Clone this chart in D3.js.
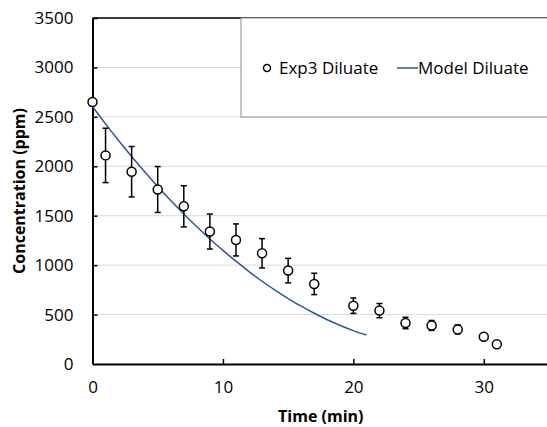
<!DOCTYPE html>
<html lang="en">
<head>
  <meta charset="utf-8">
  <title>Diluate concentration</title>
  <script src="https://cdn.jsdelivr.net/npm/d3@7"></script>
  <style>
    body { margin: 0; background: #fff; }
    text { font-family: "Open Sans", "Noto Sans", sans-serif; fill: #000; }
  </style>
</head>
<body>
  <div id="chart"></div>
  <script>
    // experimental points (time in min, concentration in ppm, error bar half-length)
    var expTime = [0, 1, 3, 5, 7, 9, 11, 13, 15, 17, 20, 22, 24, 26, 28, 30, 31];
    var expConc = [2650, 2110, 1945, 1765, 1595, 1340, 1255, 1120, 945, 810, 590, 540, 415, 390, 350, 275, 200];
    var expErr = [0, 275, 255, 232, 208, 177, 162, 148, 124, 108, 78, 72, 58, 50, 45, 0, 0];

    // model curve
    var modelTime = [0, 1, 2, 3, 4, 5, 6, 7, 8, 9, 10, 11, 12, 13, 14, 15, 16, 17, 18, 19, 20, 21];
    var modelConc = [2604, 2429, 2261, 2099, 1944, 1795, 1653, 1517, 1388, 1265, 1150, 1040, 935, 837, 747, 662, 585, 513, 448, 390, 338, 293];

    var xTicks = [0, 10, 20, 30];
    var yTicks = [0, 500, 1000, 1500, 2000, 2500, 3000, 3500];

    var W = 547, H = 427;
    var margin = { top: 18, right: -2, bottom: 63, left: 92.5 };

    var svg = d3.select("#chart").append("svg")
      .attr("width", W)
      .attr("height", H);

    var x = d3.scaleLinear().domain([0, 35]).range([margin.left, W - margin.right]);
    var y = d3.scaleLinear().domain([0, 3500]).range([H - margin.bottom, margin.top]);

    // gridlines
    svg.append("g").selectAll("line")
      .data(yTicks.slice(1))
      .enter().append("line")
      .attr("x1", x(0)).attr("x2", W)
      .attr("y1", function (d) { return y(d); })
      .attr("y2", function (d) { return y(d); })
      .attr("stroke", "#d9d9d9")
      .attr("stroke-width", 1);

    // top border of plot area
    svg.append("line")
      .attr("x1", x(0)).attr("x2", W)
      .attr("y1", y(3500)).attr("y2", y(3500))
      .attr("stroke", "#000").attr("stroke-width", 1.5);

    // axes
    var fmt = d3.format("d");
    var xAxis = d3.axisBottom(x).tickValues(xTicks).tickFormat(fmt).tickSizeInner(-5).tickSizeOuter(0).tickPadding(17);
    var yAxis = d3.axisLeft(y).tickValues(yTicks).tickFormat(fmt).tickSizeInner(-5).tickSizeOuter(0).tickPadding(19);

    var gx = svg.append("g")
      .attr("transform", "translate(0," + y(0) + ")")
      .call(xAxis);
    var gy = svg.append("g")
      .attr("transform", "translate(" + x(0) + ",0)")
      .call(yAxis);

    [gx, gy].forEach(function (g) {
      g.select(".domain").attr("stroke", "#000").attr("stroke-width", 2);
      g.selectAll(".tick line").attr("stroke", "#000").attr("stroke-width", 1.5);
      g.selectAll(".tick text").style("font-size", "17px").attr("fill", "#000");
    });
    gx.selectAll(".tick line").filter(function (d) { return d === 0; }).remove();
    gy.selectAll(".tick line").filter(function (d) { return d === 0; }).remove();

    // axis titles
    svg.append("text")
      .attr("x", (x(0) + x(35)) / 2)
      .attr("y", 422)
      .attr("text-anchor", "middle")
      .style("font-size", "16px")
      .style("font-weight", "bold")
      .text("Time (min)");

    svg.append("text")
      .attr("transform", "translate(25," + 191 + ") rotate(-90)")
      .attr("text-anchor", "middle")
      .style("font-size", "16px")
      .style("font-weight", "bold")
      .text("Concentration (ppm)");

    // model line
    var line = d3.line()
      .x(function (d) { return x(d[0]); })
      .y(function (d) { return y(d[1]); })
      .curve(d3.curveMonotoneX);

    svg.append("path")
      .datum(modelTime.map(function (t, i) { return [t, modelConc[i]]; }))
      .attr("d", line)
      .attr("fill", "none")
      .attr("stroke", "#2f5597")
      .attr("stroke-width", 1.5);

    // error bars
    var pts = expTime.map(function (t, i) { return { t: t, c: expConc[i], e: expErr[i] }; });
    var eb = svg.append("g").selectAll("g")
      .data(pts.filter(function (d) { return d.e > 0; }))
      .enter().append("g")
      .attr("stroke", "#000")
      .attr("stroke-width", 1.5);
    eb.append("line")
      .attr("x1", function (d) { return x(d.t); })
      .attr("x2", function (d) { return x(d.t); })
      .attr("y1", function (d) { return y(d.c + d.e); })
      .attr("y2", function (d) { return y(d.c - d.e); });
    [1, -1].forEach(function (s) {
      eb.append("line")
        .attr("x1", function (d) { return x(d.t) - 3; })
        .attr("x2", function (d) { return x(d.t) + 3; })
        .attr("y1", function (d) { return y(d.c + s * d.e); })
        .attr("y2", function (d) { return y(d.c + s * d.e); });
    });

    // markers
    svg.append("g").selectAll("circle")
      .data(pts)
      .enter().append("circle")
      .attr("cx", function (d) { return x(d.t); })
      .attr("cy", function (d) { return y(d.c); })
      .attr("r", 4.5)
      .attr("fill", "#fff")
      .attr("stroke", "#000")
      .attr("stroke-width", 1.5);

    // legend
    var lg = svg.append("g");
    lg.append("rect")
      .attr("x", 241).attr("y", 18)
      .attr("width", 320).attr("height", 99)
      .attr("fill", "#fff")
      .attr("stroke", "#8c8c8c")
      .attr("stroke-width", 1);
    lg.append("circle")
      .attr("cx", 267).attr("cy", 68).attr("r", 3.5)
      .attr("fill", "#fff").attr("stroke", "#000").attr("stroke-width", 1.5);
    lg.append("text")
      .attr("x", 279).attr("y", 74)
      .style("font-size", "17px")
      .text("Exp3 Diluate");
    lg.append("line")
      .attr("x1", 397).attr("x2", 418)
      .attr("y1", 68).attr("y2", 68)
      .attr("stroke", "#2f5597").attr("stroke-width", 1.5);
    lg.append("text")
      .attr("x", 418).attr("y", 74)
      .style("font-size", "17px")
      .text("Model Diluate");
  </script>
</body>
</html>
